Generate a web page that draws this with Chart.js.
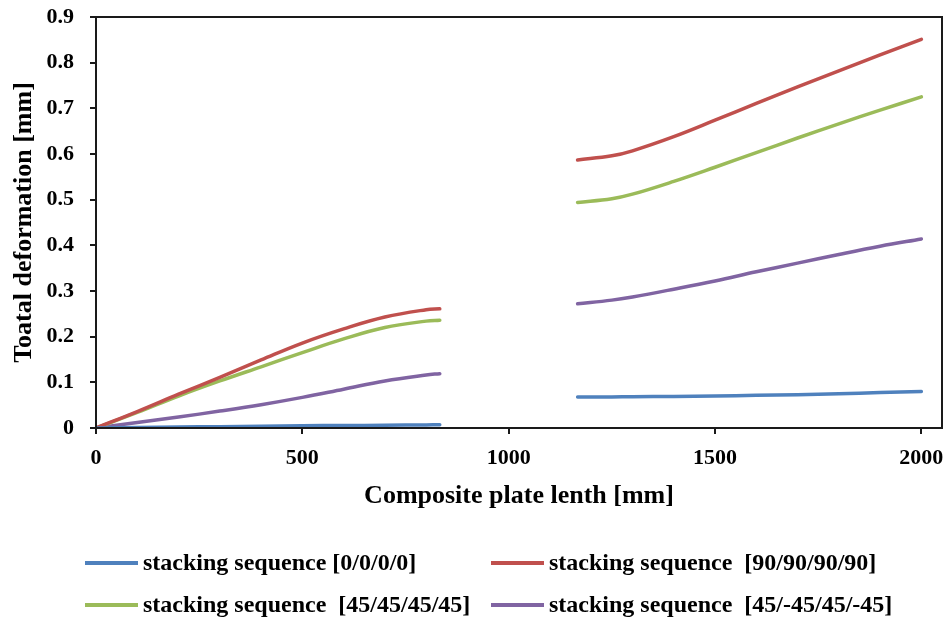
<!DOCTYPE html>
<html>
<head>
<meta charset="utf-8">
<script src="https://cdn.jsdelivr.net/npm/chart.js@4.4.1/dist/chart.umd.min.js"></script>
<style>
  html, body { margin: 0; padding: 0; background: #fff; }
  #wrap { width: 948px; height: 622px; position: relative; }
</style>
</head>
<body>
<div id="wrap"><canvas id="c" width="948" height="622"></canvas></div>
<script>
// Plate length positions [mm]; a null point separates the two segments (gap)
const xSeg1 = [0, 100, 200, 300, 400, 500, 600, 700, 800, 833];
const xSeg2 = [1167, 1250, 1300, 1400, 1500, 1600, 1700, 1800, 1900, 2000];

const seq0000_1 = [0, 0.001, 0.002, 0.003, 0.004, 0.005, 0.0055, 0.006, 0.0068, 0.007];
const seq0000_2 = [0.068, 0.068, 0.0685, 0.069, 0.070, 0.0715, 0.073, 0.075, 0.0775, 0.080];

const seq9090_1 = [0, 0.036, 0.074, 0.111, 0.149, 0.186, 0.217, 0.243, 0.259, 0.261];
const seq9090_2 = [0.587, 0.596, 0.607, 0.638, 0.674, 0.711, 0.747, 0.782, 0.817, 0.851];

const seq4545_1 = [0, 0.034, 0.070, 0.103, 0.134, 0.165, 0.195, 0.220, 0.234, 0.236];
const seq4545_2 = [0.494, 0.502, 0.512, 0.540, 0.571, 0.603, 0.635, 0.666, 0.696, 0.725];

const seqPM45_1 = [0, 0.012, 0.024, 0.037, 0.051, 0.067, 0.085, 0.103, 0.116, 0.119];
const seqPM45_2 = [0.272, 0.280, 0.287, 0.304, 0.322, 0.342, 0.361, 0.380, 0.398, 0.414];

const seriesLabels = [
  'stacking sequence [0/0/0/0]',
  'stacking sequence  [90/90/90/90]',
  'stacking sequence  [45/45/45/45]',
  'stacking sequence  [45/-45/45/-45]'
];
const seriesColors = ['#4F81BD', '#C0504D', '#9BBB59', '#8064A2'];
const xTickValues = [0, 500, 1000, 1500, 2000];

function build(a, b) {
  const pts = xSeg1.map((x, i) => ({x: x, y: a[i]}));
  pts.push({x: 1000, y: null});
  xSeg2.forEach((x, i) => pts.push({x: x, y: b[i]}));
  return pts;
}

const seriesData = [
  build(seq0000_1, seq0000_2),
  build(seq9090_1, seq9090_2),
  build(seq4545_1, seq4545_2),
  build(seqPM45_1, seqPM45_2)
];

const FONT = 'Liberation Serif';

const framePlugin = {
  id: 'frame',
  afterDraw(chart) {
    const {ctx, chartArea: a} = chart;
    ctx.save();
    ctx.strokeStyle = '#1a1a1a';
    ctx.lineWidth = 2;
    ctx.strokeRect(a.left, a.top, a.right - a.left, a.bottom - a.top);
    ctx.restore();
  }
};

const legendPlugin = {
  id: 'customLegend',
  afterDraw(chart) {
    const ctx = chart.ctx;
    const cols = [85, 491];
    const rows = [563, 605];
    ctx.save();
    ctx.font = 'bold 24px "' + FONT + '"';
    ctx.textBaseline = 'middle';
    ctx.fillStyle = '#000';
    chart.data.datasets.forEach((ds, i) => {
      const x = cols[i % 2];
      const y = rows[Math.floor(i / 2)];
      ctx.strokeStyle = ds.borderColor;
      ctx.lineWidth = 4;
      ctx.lineCap = 'butt';
      ctx.beginPath();
      ctx.moveTo(x, y);
      ctx.lineTo(x + 53, y);
      ctx.stroke();
      ctx.fillText(ds.label, x + 58, y + 1);
    });
    ctx.restore();
  }
};

new Chart(document.getElementById('c'), {
  type: 'line',
  data: {
    datasets: seriesData.map((d, i) => ({
      label: seriesLabels[i],
      data: d,
      borderColor: seriesColors[i],
      backgroundColor: seriesColors[i],
      borderWidth: 3.5,
      borderCapStyle: 'round',
      borderJoinStyle: 'round',
      pointRadius: 0,
      tension: 0.4,
      spanGaps: false,
      fill: false
    }))
  },
  options: {
    responsive: false,
    animation: false,
    layout: { padding: { top: 17, right: 6, left: 0, bottom: 104 } },
    plugins: { legend: { display: false }, tooltip: { enabled: false } },
    scales: {
      x: {
        type: 'linear',
        min: 0,
        max: 2050,
        afterBuildTicks(scale) { scale.ticks = xTickValues.map(v => ({value: v})); },
        afterFit(scale) { scale.height = 90; scale.paddingLeft = 0; scale.paddingRight = 0; },
        grid: { display: true, drawOnChartArea: false, drawTicks: true, tickLength: 6, color: '#1a1a1a', lineWidth: 2 },
        border: { display: true, color: '#1a1a1a', width: 2 },
        ticks: {
          color: '#000',
          font: { family: FONT, size: 22, weight: 'bold' },
          padding: 11,
          maxRotation: 0,
          callback: v => String(v)
        },
        title: {
          display: true,
          text: 'Composite plate lenth [mm]',
          color: '#000',
          font: { family: FONT, size: 26, weight: 'bold' },
          padding: { top: 0, bottom: 6 }
        }
      },
      y: {
        min: 0,
        max: 0.9,
        ticks: {
          stepSize: 0.1,
          color: '#000',
          font: { family: FONT, size: 22, weight: 'bold' },
          padding: 16,
          callback: v => String(Math.round(v * 10) / 10)
        },
        afterFit(scale) { scale.width = 96; scale.paddingTop = 0; scale.paddingBottom = 0; },
        grid: { display: true, drawOnChartArea: false, drawTicks: true, tickLength: 6, color: '#1a1a1a', lineWidth: 2 },
        border: { display: true, color: '#1a1a1a', width: 2 },
        title: {
          display: true,
          text: 'Toatal deformation [mm]',
          color: '#000',
          font: { family: FONT, size: 26, weight: 'bold' },
          padding: { top: 9, bottom: 0 }
        }
      }
    }
  },
  plugins: [framePlugin, legendPlugin]
});
</script>
</body>
</html>
